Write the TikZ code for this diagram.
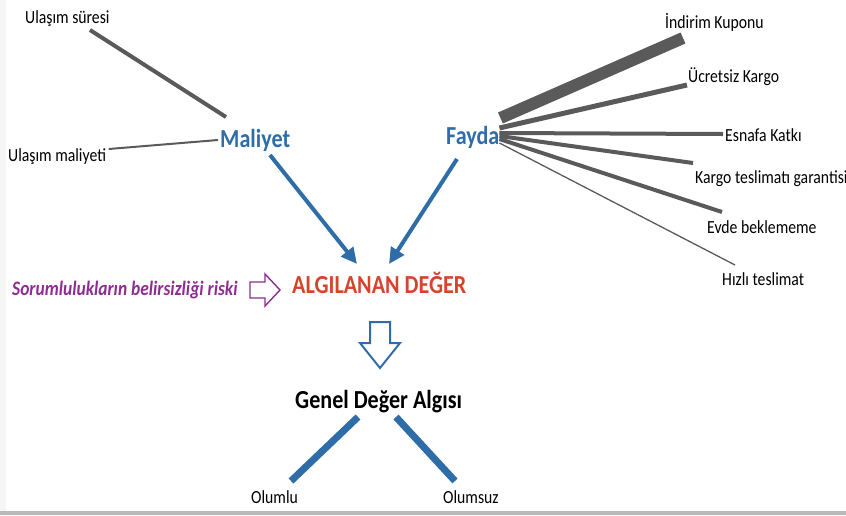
\documentclass[tikz,border=0pt]{standalone}
\usepackage{fontspec}
\setmainfont[FakeStretch=0.85]{Carlito}
\usepackage{xcolor}
\usepackage{tikz}
\usetikzlibrary{arrows.meta}

\definecolor{valueblue}{HTML}{2E6DA8}
\definecolor{valuered}{HTML}{D4452E}
\definecolor{riskpurple}{HTML}{8E2C91}
\definecolor{linkgray}{HTML}{5A5A5A}

\begin{document}
\begin{tikzpicture}[x=1pt,y=-1pt,
	lbl/.style={anchor=base west,inner sep=0pt,font=\fontsize{18.5}{20}\selectfont},
	head/.style={anchor=base west,inner sep=0pt,font=\fontsize{26}{29}\selectfont\bfseries},
	link/.style={draw=linkgray,line width=#1},
	link/.default=4pt,
	flow/.style={draw=valueblue,line width=4pt,-{Triangle[length=16pt,width=15pt]}},
	branch/.style={draw=valueblue,line width=7pt}]
	\useasboundingbox (0,0) rectangle (846,515);
	\clip (0,0) rectangle (846,515);
	\fill[gray!7] (0,0) rectangle (6,515);
	\fill[gray!55] (0,511) rectangle (846,515);

	\node[lbl] (sure) at (25,23.5) {Ulaşım süresi};
	\node[lbl] (maliyeti) at (8,161) {Ulaşım maliyeti};
	\node[head,text=valueblue] (maliyet) at (220,147) {Maliyet};
	\node[head,text=valueblue] (fayda) at (446,144) {Fayda};
	\node[lbl] (kupon) at (665,28) {İndirim Kuponu};
	\node[lbl] (kargo) at (688,82) {Ücretsiz Kargo};
	\node[lbl] (esnaf) at (725,141) {Esnafa Katkı};
	\node[lbl] (garanti) at (695,183) {Kargo teslimatı garantisi};
	\node[lbl] (evde) at (707,233) {Evde beklememe};
	\node[lbl] (hizli) at (722,285) {Hızlı teslimat};
	\node[head,text=valuered] (algi) at (292,293) {ALGILANAN DEĞER};
	\node[anchor=base west,inner sep=0pt,text=riskpurple,
		font=\fontsize{20.5}{23}\selectfont\bfseries\itshape] (risk) at (12,295) {Sorumlulukların belirsizliği riski};
	\node[head] (genel) at (295,408) {Genel Değer Algısı};
	\node[lbl] (olumlu) at (251,503) {Olumlu};
	\node[lbl] (olumsuz) at (443,503) {Olumsuz};

	\draw[link] ([xshift=6pt,yshift=30pt]maliyet.base west) -- ([xshift=65pt,yshift=-6.5pt]sure.base west);
	\draw[link=2pt] ([xshift=-2pt,yshift=7pt]maliyet.base west) -- ([xshift=2.5pt,yshift=12pt]maliyeti.base east);

	\draw[link=12pt] ([xshift=1pt,yshift=26pt]fayda.base east) -- ([xshift=18pt,yshift=-10pt]kupon.base west);
	\draw[link=5pt] ([xshift=0pt,yshift=16pt]fayda.base east) -- ([xshift=-1pt,yshift=-3pt]kargo.base west);
	\draw[link] ([xshift=0pt,yshift=11pt]fayda.base east) -- ([xshift=-2pt,yshift=7pt]esnaf.base west);
	\draw[link] ([xshift=0pt,yshift=8pt]fayda.base east) -- ([xshift=-2pt,yshift=20pt]garanti.base west);
	\draw[link] ([xshift=0pt,yshift=5pt]fayda.base east) -- ([xshift=15pt,yshift=21pt]evde.base west);
	\draw[link=1.3pt] ([xshift=0pt,yshift=1pt]fayda.base east) -- ([xshift=13pt,yshift=20pt]hizli.base west);

	\draw[flow] ([xshift=50pt,yshift=-8pt]maliyet.base west) -- ([xshift=65pt,yshift=29pt]algi.base west);
	\draw[flow] ([xshift=11pt,yshift=-15pt]fayda.base west) -- ([xshift=97pt,yshift=29pt]algi.base west);

	\draw[riskpurple,line width=1.4pt,line join=miter] (250,282) -- (265,282) -- (265,274) -- (280,290)
		-- (265,306) -- (265,298) -- (250,298) -- cycle;
	\draw[valueblue,line width=2pt,line join=miter] (370,322) -- (390,322) -- (390,343) -- (400,343)
		-- (380,368) -- (360,343) -- (370,343) -- cycle;

	\draw[branch] ([xshift=63pt,yshift=-9pt]genel.base west) -- ([xshift=40pt,yshift=22pt]olumlu.base west);
	\draw[branch] ([xshift=101pt,yshift=-9pt]genel.base west) -- ([xshift=12pt,yshift=22pt]olumsuz.base west);
\end{tikzpicture}
\end{document}
